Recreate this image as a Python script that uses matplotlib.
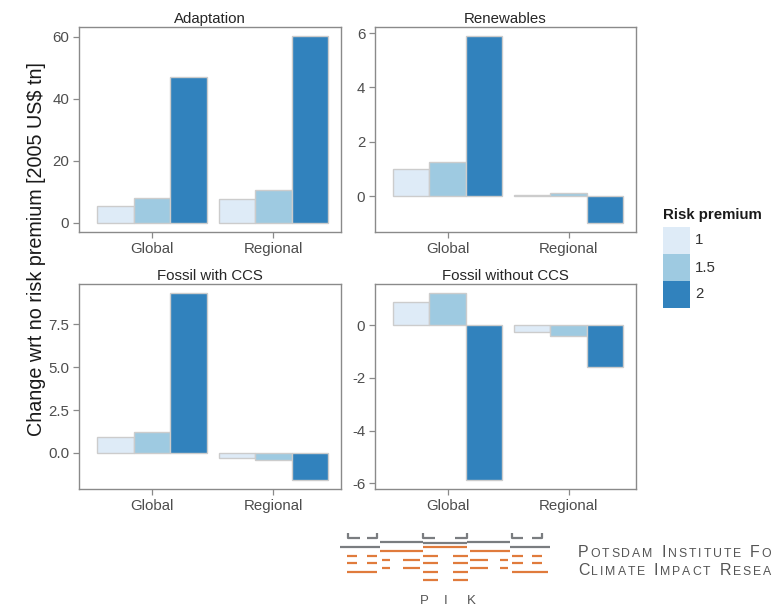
import numpy as np
import matplotlib
matplotlib.use("Agg")
import matplotlib.pyplot as plt
from matplotlib.patches import Rectangle

plt.rcParams['font.family'] = ['Liberation Sans', 'DejaVu Sans']

# bar data: change wrt no risk premium [2005 US$ tn]
regions = ['Global', 'Regional']
premiums = ['1', '1.5', '2']
colors = ['#deebf7', '#9ecae1', '#3182bd']

panels = ['Adaptation', 'Renewables', 'Fossil with CCS', 'Fossil without CCS']
adaptation = [[5.4, 7.9, 47.0], [7.6, 10.4, 60.2]]
renewables = [[1.01, 1.26, 5.88], [0.05, 0.12, -0.98]]
fossil_ccs = [[0.90, 1.23, 9.32], [-0.30, -0.40, -1.57]]
fossil_noccs = [[0.89, 1.22, -5.87], [-0.26, -0.41, -1.57]]
values = [adaptation, renewables, fossil_ccs, fossil_noccs]

yticks = [[0, 20, 40, 60], [0, 2, 4, 6], [0.0, 2.5, 5.0, 7.5], [-6, -4, -2, 0]]
ytickfmt = ['{:.0f}', '{:.0f}', '{:.1f}', '{:.0f}']

W, H = 774, 606
fig = plt.figure(figsize=(W / 100, H / 100), dpi=100)

# panel boxes in pixels: left, top, right, bottom
boxes = [(79, 27, 341, 232), (375, 27, 636, 232),
         (79, 284, 341, 489), (375, 284, 636, 489)]

tick_col = '#4d4d4d'
frame_col = '#8a8a8a'
width = 0.3
fs = 10.8

for k, (name, vals) in enumerate(zip(panels, values)):
    l, t, r, b = boxes[k]
    ax = fig.add_axes([l / W, 1 - b / H, (r - l) / W, (b - t) / H])
    x = np.arange(1, len(regions) + 1)
    for j, p in enumerate(premiums):
        h = [vals[i][j] for i in range(len(regions))]
        ax.bar(x + (j - 1) * width, h, width, color=colors[j],
               edgecolor='#cccccc', linewidth=1.0, zorder=2)
    flat = np.array(vals).ravel()
    lo, hi = min(flat.min(), 0), max(flat.max(), 0)
    pad = 0.05 * (hi - lo)
    ax.set_ylim(lo - pad, hi + pad)
    ax.set_xlim(0.4, 2.557)
    ax.set_xticks(x)
    ax.set_xticklabels(regions)
    ax.set_yticks(yticks[k])
    ax.set_yticklabels([ytickfmt[k].format(v) for v in yticks[k]])
    ax.tick_params(colors=frame_col, labelcolor=tick_col, labelsize=fs,
                   length=4, width=0.9, direction='out', pad=3)
    for s in ax.spines.values():
        s.set_color(frame_col)
        s.set_linewidth(1.0)
    ax.set_title(name, fontsize=fs, color='#262626', pad=3)

# overlay in pixel coordinates for the label, legend and logo
ov = fig.add_axes([0, 0, 1, 1], zorder=-1)
ov.set_xlim(0, W)
ov.set_ylim(H, 0)
ov.axis('off')

ov.text(37, 249, 'Change wrt no risk premium [2005 US$ tn]', rotation=90,
        ha='center', va='center', fontsize=14.2, color='#1a1a1a')

# legend
ov.text(663, 215, 'Risk premium', fontsize=fs, fontweight='bold',
        ha='left', va='center', color='#1a1a1a')
for j, p in enumerate(premiums):
    y0 = 227 + j * 27
    ov.add_patch(Rectangle((663, y0), 27, 27, facecolor=colors[j],
                           edgecolor='none'))
    ov.text(695, y0 + 13.5, p, fontsize=fs, ha='left', va='center',
            color='#333333')

# logo
grey = '#7a7d80'
orange = '#e07b3c'
brackets = [(348, 360, 'L'), (367, 377, 'R'), (423, 435, 'L'), (455, 467, 'R'),
            (512, 523, 'L'), (532, 542, 'R')]
for a, c, side in brackets:
    xv = a if side == 'L' else c
    ov.plot([xv, xv, c if side == 'L' else a], [533, 538, 538],
            color=grey, lw=1.6, solid_capstyle='butt')
for xs, y in [((340, 380), 547), ((380, 423), 542), ((423, 467), 543),
              ((467, 510), 542), ((510, 550), 547)]:
    ov.plot(xs, [y, y], color=grey, lw=1.6, solid_capstyle='butt')

orange_segs = [
    ((347, 357), 556), ((367, 377), 556), ((347, 357), 563), ((367, 377), 563),
    ((347, 377), 572),
    ((380, 423), 551), ((382, 390), 560), ((403, 420), 560),
    ((382, 390), 568), ((403, 420), 568),
    ((423, 467), 547),
    ((423, 438), 556), ((423, 438), 563), ((423, 438), 572), ((423, 438), 580),
    ((453, 468), 556), ((453, 468), 563), ((453, 468), 572), ((453, 468), 580),
    ((470, 510), 551), ((470, 488), 560), ((500, 508), 560),
    ((470, 488), 568), ((500, 508), 568),
    ((512, 523), 556), ((532, 542), 556), ((512, 523), 563), ((532, 542), 563),
    ((512, 548), 572),
]
for xs, y in orange_segs:
    ov.plot(xs, [y, y], color=orange, lw=1.6, solid_capstyle='butt')

for xc, ch in zip([424, 446, 471], 'PIK'):
    ov.text(xc, 601, ch, fontsize=9.5, ha='center', va='center', color='#555555')

renderer = fig.canvas.get_renderer()


def small_caps(x, y, line, big=11.5, small=8.8, track=1.9):
    for word in line.split():
        for i, ch in enumerate(word):
            t = ov.text(x, y, ch.upper(), fontsize=big if i == 0 else small,
                        ha='left', va='baseline', color='#555555')
            x += t.get_window_extent(renderer).width + track
        x += 7


small_caps(578, 557, 'Potsdam Institute for')
small_caps(578, 575, 'Climate Impact Research')

fig.savefig('out.png', dpi=100)
